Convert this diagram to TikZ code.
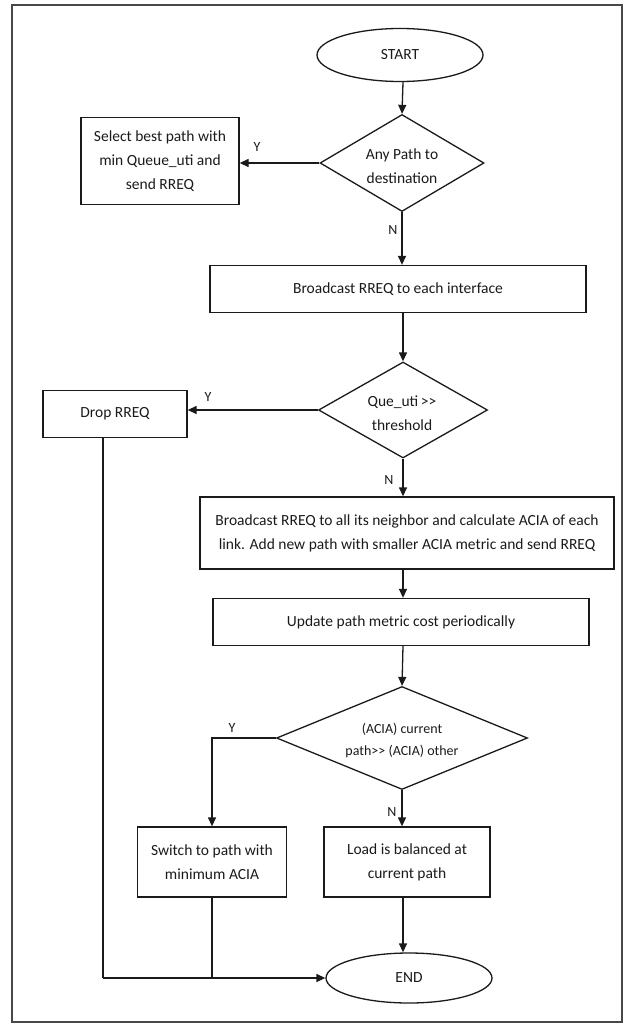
\documentclass[tikz,border=0pt]{standalone}
\usepackage{fontspec}
\setmainfont{Carlito}
\usetikzlibrary{shapes.geometric,arrows.meta}
\definecolor{ink}{HTML}{1A1A1A}
\tikzset{
  box/.style={draw=ink, line width=1.3pt, inner sep=0pt, align=center, text=ink,
    font=\fontsize{15.5}{24}\selectfont},
  oval/.style={draw=ink, line width=1.3pt, ellipse, inner sep=0pt, text=ink,
    font=\fontsize{15.5}{24}\selectfont},
  dia/.style={draw=ink, line width=1.3pt, diamond, inner sep=0pt},
  dtext/.style={align=center, text=ink, inner sep=0pt, font=\fontsize{15.5}{24}\selectfont},
  flow/.style={draw=ink, line width=1.3pt, -{Triangle[length=9pt,width=8pt]}},
  plain/.style={draw=ink, line width=1.3pt},
  yn/.style={text=ink, inner sep=0pt, font=\fontsize{14}{16}\selectfont}
}
\begin{document}
\begin{tikzpicture}[x=1pt,y=-1pt]
\useasboundingbox (0,0) rectangle (633,1027);
\draw[draw=ink!80, line width=1.2pt] (12,5) rectangle (622,1022);

\node[oval, minimum width=166pt, minimum height=53pt] (start) at (400,55) {START};

\node[dia, minimum width=164pt, minimum height=97pt] (d1) at (402,163) {};
\node[dtext] (d1t) at (402,166) {Any Path to\\destination};

\node[box, minimum width=158pt, minimum height=87pt] (sel) at (160,161) {Select best path with\\min Queue\_uti and\\send RREQ};

\node[box, minimum width=376pt, minimum height=47pt] (b1) at (398,289) {Broadcast RREQ to each interface};

\node[dia, minimum width=169pt, minimum height=96pt] (d2) at (403,410) {};
\node[dtext] (d2t) at (402,413) {Que\_uti\,>{}>\\threshold};

\node[box, minimum width=144pt, minimum height=47pt] (drop) at (115,414) {Drop RREQ};

\node[box, minimum width=414pt, minimum height=72pt] (b2) at (407,533) {Broadcast RREQ to all its neighbor and calculate ACIA of each\\link. Add new path with smaller ACIA metric and send RREQ};

\node[box, minimum width=376pt, minimum height=47pt] (upd) at (401,622) {Update path metric cost periodically};

\node[dia, minimum width=251pt, minimum height=103pt] (d3) at (402,738) {};
\node[dtext, font=\fontsize{14}{22}\selectfont] (d3t) at (402,740) {(ACIA) current\\path>{}> (ACIA) other};

\node[box, minimum width=149pt, minimum height=70pt] (sw) at (212,862) {Switch to path with\\minimum ACIA};
\node[box, minimum width=166pt, minimum height=70pt] (load) at (407,862) {Load is balanced at\\current path};

\node[oval, minimum width=166pt, minimum height=50pt] (end) at (409,978) {END};

\coordinate (mx) at (403,0);
\coordinate (dropx) at (103,0);

\draw[flow] (start.south -| mx) -- (d1.north);
\draw[flow] (d1.west) -- (sel.east |- d1.west);
\node[yn] (y1) at (257,147) {Y};
\draw[flow] (d1.south) -- (b1.north -| d1.south);
\node[yn] (n1) at (393,230) {N};
\draw[flow] (b1.south -| mx) -- (d2.north);
\draw[flow] (d2.west) -- (drop.east |- d2.west);
\node[yn] (y2) at (208,397) {Y};
\draw[flow] (d2.south) -- (b2.north -| d2.south);
\node[yn] (n2) at (389,480) {N};
\draw[flow] (b2.south -| mx) -- (upd.north -| mx);
\draw[flow] (upd.south -| mx) -- (d3.north);
\draw[flow] (d3.west) -| (sw.north);
\node[yn] (y3) at (232,728) {Y};
\draw[flow] (d3.south) -- (load.north -| d3.south);
\node[yn] (n3) at (392,812) {N};
\draw[flow] (load.south -| mx) -- (end.north -| mx);
\coordinate (corner) at (dropx |- end.west);
\draw[plain] (drop.south -| dropx) -- (corner);
\draw[flow] (corner) -- (end.west);
\draw[plain] (sw.south) -- (sw.south |- end.west);
\end{tikzpicture}
\end{document}
